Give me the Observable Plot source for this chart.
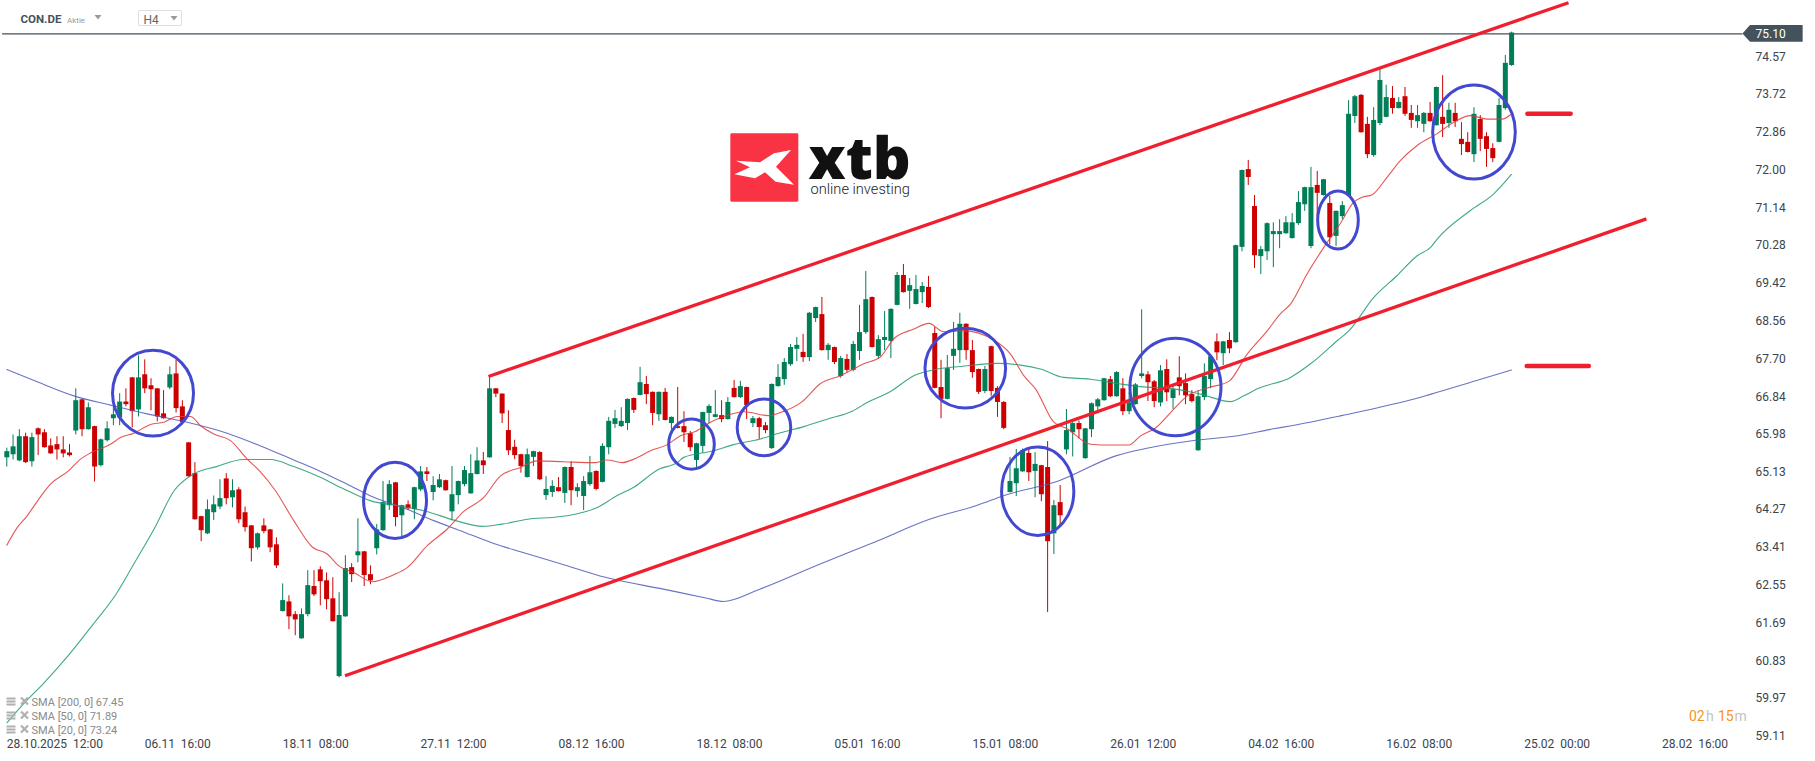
<!DOCTYPE html>
<html><head><meta charset="utf-8">
<script src="https://cdn.jsdelivr.net/npm/d3@7"></script>
<script src="https://cdn.jsdelivr.net/npm/@observablehq/plot@0.6"></script>
<style>html,body{margin:0;padding:0;background:#fff;overflow:hidden}svg{display:block}</style>
</head><body><div id="chart"></div>
<script>
const opens=[65.45,65.52,65.38,65.93,65.36,66.11,66.02,65.72,65.75,65.63,
65.56,66.06,66.77,66.09,66.16,65.27,65.84,66.34,66.36,66.72,
67.27,66.54,67.34,67.09,67.02,66.45,67.04,67.36,66.61,65.79,
65.09,64.11,63.72,64.20,64.33,64.97,64.54,64.72,64.20,63.90,
63.40,63.90,63.81,63.47,61.95,62.17,61.88,61.33,61.88,62.52,
62.90,62.65,62.24,60.47,61.83,62.95,63.22,63.31,62.79,63.38,
63.79,64.36,64.88,64.13,64.38,64.27,64.72,65.13,64.66,64.77,
64.93,64.22,64.59,64.84,64.63,65.07,65.38,65.45,67.02,66.90,
66.07,65.69,65.52,65.00,65.46,65.57,64.59,64.66,64.77,64.64,
65.23,64.68,64.57,64.84,65.14,64.89,65.68,66.21,66.16,66.23,
66.80,66.87,67.12,66.94,66.43,66.94,66.23,66.16,66.16,66.00,
65.39,65.71,66.46,66.37,66.41,66.32,67.03,66.82,67.05,66.23,
66.34,66.18,65.66,67.07,67.23,67.57,67.92,67.85,67.73,68.62,
68.71,67.89,67.96,67.30,67.69,67.44,67.87,68.30,69.10,67.76,
68.12,68.10,68.92,69.60,69.24,68.94,69.21,69.33,68.28,67.05,
66.78,67.76,67.89,68.49,67.89,67.46,66.96,67.98,67.03,66.71,
64.66,64.86,65.13,65.55,65.14,65.27,65.23,63.72,64.43,65.63,
66.02,66.23,65.43,66.09,66.61,66.75,67.23,66.84,67.02,66.50,
66.66,67.30,67.34,67.18,66.70,67.46,66.80,67.27,67.14,66.89,
65.61,66.82,67.23,68.09,67.82,68.12,68.07,70.24,72.01,71.17,
70.03,70.14,70.53,70.53,70.55,70.44,70.78,71.21,70.26,71.65,
71.42,71.24,70.49,70.94,71.42,73.22,73.70,73.04,72.33,73.06,
73.20,73.63,73.40,73.67,73.29,73.10,73.04,73.29,73.01,73.20,
73.06,73.29,72.70,72.63,72.35,73.15,72.76,72.49,72.63,73.40,
74.38];
const highs=[65.67,65.97,66.09,66.01,66.01,66.13,66.09,65.88,65.93,65.93,
65.75,67.02,66.78,66.70,66.17,65.88,66.27,66.63,66.91,67.02,
67.28,67.77,67.68,67.25,67.03,66.98,67.52,67.68,66.75,65.80,
65.34,64.12,64.49,64.58,64.95,65.09,64.95,64.77,64.33,63.91,
63.74,64.06,63.82,63.63,62.58,62.31,61.95,62.01,62.88,62.88,
62.97,62.83,62.72,62.38,63.22,63.04,64.06,63.32,62.99,63.93,
64.91,64.93,64.89,64.37,64.47,64.78,65.25,65.23,65.02,65.07,
64.94,65.25,64.92,65.25,65.52,65.68,65.57,67.28,67.03,66.91,
66.52,65.85,65.53,65.65,65.60,65.59,65.02,64.93,65.00,65.24,
65.36,64.86,65.02,65.48,65.15,65.77,66.37,66.53,66.59,66.79,
66.81,67.51,67.30,66.95,66.95,67.03,66.38,67.05,66.50,66.05,
65.78,66.49,66.66,66.98,66.75,66.82,67.21,67.19,67.06,66.39,
66.37,66.25,67.13,67.57,67.71,68.03,68.19,68.26,68.76,68.88,
69.10,68.05,67.97,67.76,67.80,68.10,68.92,69.69,69.11,68.23,
68.78,68.84,69.67,69.85,69.53,69.60,69.44,69.58,68.42,67.67,
67.78,68.53,68.74,68.50,68.12,67.47,67.53,67.99,67.07,66.73,
65.46,65.64,65.65,65.69,65.57,65.28,65.82,64.48,64.82,66.55,
66.25,66.29,66.12,66.70,66.80,67.26,67.30,67.41,67.25,66.93,
67.14,68.82,67.41,67.21,67.55,67.68,67.07,67.75,67.36,66.98,
66.98,67.59,67.80,68.27,68.10,68.30,70.29,72.00,72.22,71.42,
70.26,70.80,70.80,70.87,70.94,71.01,71.51,71.61,72.06,71.97,
71.79,71.40,71.07,71.28,73.58,73.70,73.72,73.20,73.42,74.31,
73.93,73.90,73.65,73.88,73.47,73.47,73.31,73.54,73.89,74.15,
73.52,73.52,73.08,72.85,73.42,73.24,72.85,72.60,73.63,74.61,
75.14];
const lows=[65.24,65.40,65.36,65.32,65.24,65.50,65.67,65.53,65.40,65.45,
65.47,65.97,65.93,66.08,64.90,65.24,65.81,66.18,66.18,66.61,
66.13,66.38,66.91,66.52,66.27,66.33,67.00,66.47,66.24,65.01,
64.03,63.54,63.70,64.02,64.27,64.38,64.31,63.95,63.76,63.08,
63.35,63.72,63.29,62.93,61.94,61.54,61.40,61.32,61.83,62.29,
62.08,61.99,61.71,60.44,61.82,62.61,63.06,62.52,62.56,63.24,
63.78,64.25,63.88,63.65,64.25,64.04,64.68,64.91,64.47,64.75,
64.69,64.02,64.38,64.79,64.62,65.06,65.07,65.44,66.82,66.23,
65.50,65.41,65.10,64.99,65.25,64.93,64.48,64.55,64.67,64.41,
64.36,64.55,64.25,64.80,64.70,64.88,65.52,66.12,66.14,66.07,
66.46,66.86,66.66,66.18,66.28,66.29,66.09,66.11,65.80,65.59,
65.21,65.55,66.23,66.36,66.25,66.31,66.81,66.80,66.32,66.14,
65.87,66.00,65.64,67.06,67.10,67.53,67.64,67.62,67.64,68.53,
67.88,67.67,67.57,67.26,67.39,67.41,67.67,68.26,67.95,67.69,
67.89,67.71,68.91,69.20,68.83,68.93,68.96,68.85,67.02,66.34,
66.77,67.44,67.60,67.67,67.26,66.89,66.91,66.85,66.37,66.09,
64.65,64.57,65.12,64.91,64.54,64.45,61.93,63.25,63.91,65.52,
65.47,65.88,65.42,65.91,66.45,66.74,66.82,66.83,66.41,66.43,
66.65,67.25,66.73,66.59,66.61,66.73,66.55,66.86,66.66,66.70,
65.60,66.75,67.02,67.66,67.55,67.82,68.06,70.14,71.65,69.76,
69.62,69.94,69.78,70.21,70.54,70.43,70.74,71.06,70.21,70.92,
71.41,70.30,70.26,70.87,71.41,73.06,72.84,72.26,72.29,73.01,
73.19,73.27,73.39,73.22,72.95,72.95,72.85,73.09,73.00,72.74,
72.95,72.97,72.33,72.39,72.17,72.42,72.06,72.17,72.62,73.36,
74.36];
const closes=[65.59,65.70,65.93,65.34,65.91,65.97,65.68,65.54,65.63,65.54,
65.50,66.75,66.09,66.59,65.24,65.86,66.11,66.43,66.72,66.66,
66.50,67.27,67.02,67.00,66.38,66.34,67.34,66.57,66.25,65.02,
64.04,63.79,64.27,64.38,64.52,64.52,64.70,64.04,63.86,63.38,
63.72,63.77,63.40,62.99,62.20,61.83,61.76,61.88,62.54,62.33,
62.63,62.22,61.72,61.86,62.93,62.79,63.31,62.77,62.65,63.81,
64.43,64.84,64.09,64.36,64.29,64.77,65.13,65.07,64.82,64.95,
64.70,64.61,64.91,65.16,65.09,65.38,65.27,67.02,66.90,66.45,
65.61,65.50,65.25,65.52,65.59,64.95,64.73,64.80,64.68,65.23,
64.70,64.77,64.91,65.11,64.73,65.71,66.28,66.34,66.28,66.78,
66.53,67.16,66.89,66.46,66.94,66.30,66.37,66.12,66.02,65.68,
65.77,66.48,66.62,66.43,66.32,66.71,66.82,67.07,66.64,66.34,
66.14,66.07,67.12,67.28,67.62,67.96,68.01,67.73,68.74,68.87,
67.89,68.01,67.62,67.71,67.44,68.03,68.30,69.05,67.96,68.14,
68.19,68.83,69.60,69.21,69.37,69.28,69.35,68.87,67.03,66.78,
67.48,67.92,68.49,67.89,67.39,66.94,67.46,66.96,66.71,66.12,
64.91,65.20,65.61,65.11,65.30,64.61,63.54,64.36,64.13,66.07,
66.23,66.09,66.11,66.68,66.77,67.25,66.84,67.39,66.50,66.70,
67.11,67.36,67.16,66.73,67.43,66.93,67.00,67.07,66.86,66.73,
66.84,67.30,67.75,67.84,68.09,67.93,70.28,71.99,71.83,70.05,
70.19,70.78,70.60,70.60,70.80,70.80,71.26,71.60,71.60,71.47,
71.78,70.46,71.06,71.19,73.27,73.67,72.85,72.35,73.13,74.04,
73.65,73.40,73.54,73.27,73.13,73.24,73.29,73.10,73.88,73.04,
73.36,73.10,72.58,72.40,73.27,72.70,72.47,72.26,73.47,74.43,
75.12];
// SMA [bar position, value]
const sma20=[[0,63.46],[1.66,63.86],[3.25,64.13],[5.1,64.51],[6.97,64.85],[9.89,65.16],[11.75,65.42],[13.35,65.56],[16.54,65.76],[18.13,65.91],
[20.26,66.01],[22.92,66.21],[25.04,66.26],[27.18,66.39],[29.3,66.39],[30.89,66.18],[33.01,65.99],[35.68,65.84],[38.34,65.42],[40.46,65.13],
[42.85,64.70],[45.77,64.02],[48.71,63.42],[51.1,63.26],[52.95,62.99],[55.34,62.84],[58.28,62.63],[61.72,62.79],[63.86,62.95],[67.05,63.45],
[70.24,63.83],[72.89,64.23],[76.08,64.55],[78.74,65.04],[81.93,65.23],[84.59,65.38],[88.84,65.36],[93.89,65.34],[95.76,65.40],[98.15,65.34],
[100,65.42],[102.66,65.61],[105.33,65.75],[107.45,65.95],[109.84,66.05],[112.23,66.26],[114.35,66.39],[117.54,66.50],[121.53,66.41],[123.39,66.48],
[126.86,66.73],[129.78,67.14],[132.97,67.32],[136.68,67.59],[139.35,67.75],[141.47,68.16],[144.66,68.38],[147.05,68.51],[149.44,68.32],[152.63,68.34],
[157.42,68.13],[160.08,67.81],[162.2,67.32],[164.07,67.02],[166.99,66.26],[169.12,66.11],[172.84,65.76],[176.03,65.74],[178.95,65.74],[180.81,65.95],
[183.2,66.13],[186.12,66.56],[188.26,66.86],[191.45,67.04],[194.9,67.19],[197.83,67.81],[201.02,68.34],[203.14,68.73],[204.74,68.95],[207.4,69.64],
[210.05,70.24],[212.71,70.79],[214.83,71.27],[216.17,71.38],[217.77,71.44],[220.16,71.84],[222.28,72.22],[224.94,72.56],[228.13,72.83],[230.78,73.09],
[233.44,73.24],[236.11,73.16],[238.5,73.16],[239.82,73.26]];
const sma50=[[0.05,59.42],[2.66,59.85],[5.76,60.30],[9.76,60.94],[13.76,61.66],[17.45,62.35],[20.53,63.10],[23.6,63.86],[26.68,64.70],[29.76,65.08],
[33.44,65.25],[37.75,65.41],[42.06,65.41],[45.76,65.25],[50.06,65.00],[53.76,64.74],[58.07,64.47],[62.38,64.36],[66.68,64.24],[71.59,64.02],
[75.92,63.89],[78.98,63.94],[83.91,64.07],[86.99,64.09],[91.91,64.21],[93.89,64.30],[97.35,64.59],[100,64.78],[103.99,65.19],[106.92,65.34],
[107.97,65.46],[112.76,65.61],[115.95,65.75],[120.21,65.88],[123.4,66.02],[127.11,66.16],[130.84,66.33],[134.83,66.51],[137.22,66.71],[140.94,66.96],
[144.66,67.32],[148.39,67.47],[152.1,67.53],[157.96,67.60],[161.67,67.56],[164.86,67.47],[168.58,67.28],[172.84,67.24],[177.62,67.13],[180.81,67.07],
[186.12,67.02],[190.38,66.90],[195.17,66.73],[197.29,66.86],[199.43,67.02],[204.74,67.28],[207.93,67.59],[212.23,68.12],[214.04,68.34],[218.02,69.10],
[221.75,69.60],[224.94,70.05],[227.07,70.24],[228.13,70.43],[233.44,71.08],[237.16,71.46],[239.98,71.90]];
const sma200=[[0,67.46],[4.85,67.18],[10.69,66.86],[16.54,66.65],[22.39,66.45],[28.77,66.26],[35.15,66.01],[40.46,65.72],[45.77,65.40],[50.03,65.14],
[54.29,64.85],[58.53,64.55],[63.86,64.28],[68.1,64.02],[72.36,63.79],[77.67,63.50],[81.93,63.31],[88.31,63.04],[95.48,62.73],[104.72,62.46],
[111.48,62.26],[114.26,62.18],[120.1,62.46],[129.33,63.01],[138.55,63.54],[147.16,64.05],[154.56,64.36],[159.44,64.61],[167.48,64.91],[176.99,65.50],
[181.61,65.66],[189.59,65.85],[195.65,65.94],[202.03,66.11],[204.9,66.18],[212.87,66.41],[223.97,66.77],[234.4,67.21],[239.98,67.45]];
const priceTicks=[74.57,73.72,72.86,72.00,71.14,70.28,69.42,68.56,67.70,66.84,65.98,65.13,64.27,63.41,62.55,61.69,60.83,59.97,59.11];
const dateLabels=["28.10.2025  12:00","06.11  16:00","18.11  08:00","27.11  12:00","08.12  16:00","18.12  08:00","05.01  16:00","15.01  08:00","26.01  12:00","04.02  16:00","16.02  08:00","25.02  00:00","28.02  16:00"];
const barsPerLabel=22;
const lastPrice=75.10;
// channel lines [bar1, price1, bar2, price2]
const channels=[[76.83,67.30,249.08,75.81],[53.94,60.49,261.5,70.89]];
const levels=[[242.6,249.5,73.28],[242.5,252.4,67.54]];
// circles [bar centre, price centre, radius in bars, radius in price]
const circles=[[23.4,66.91,6.46,0.975],[62.0,64.47,5.02,0.866],[109.28,65.75,3.64,0.57],[120.84,66.13,4.27,0.645],[152.95,67.48,6.43,0.907],[164.5,64.68,5.76,1.007],[186.47,67.05,7.26,1.109],[212.39,70.85,3.24,0.66],[234.08,72.855,6.59,1.07]];
const legendRows=["SMA [200, 0] 67.45","SMA [50, 0] 71.89","SMA [20, 0] 73.24"];

const candles=opens.map((o,i)=>({i,o,h:highs[i],l:lows[i],c:closes[i]}));
const up=candles.filter(d=>d.c>=d.o), down=candles.filter(d=>d.c<d.o);
const GREEN="#007e58", RED="#cc0000";
const label=(text,x,y,o={})=>Plot.text([text],{text:d=>d,frameAnchor:"top-left",dx:x,dy:y,textAnchor:"start",lineAnchor:"middle",fontFamily:"Roboto",...o});
const smaLine=(data,stroke)=>Plot.line(data,{x:d=>d[0],y:d=>d[1],stroke,strokeWidth:1.1,strokeOpacity:0.85,curve:"monotone-x"});
const tag=[{x:276.9,y1:75.10,y2:75.10},{x:278.1,y1:74.91,y2:75.29},{x:286.5,y1:74.91,y2:75.29}];

function circlesMark(index,{x,y}){
  const g=d3.create("svg:g");
  for(const [cx,cy,rx,ry] of circles){
    g.append("ellipse").attr("cx",x(cx)).attr("cy",y(cy))
     .attr("rx",Math.abs(x(cx+rx)-x(cx))).attr("ry",Math.abs(y(cy+ry)-y(cy)))
     .attr("fill","none").attr("stroke","#4248cf").attr("stroke-width",3);
  }
  return g.node();
}
function chrome(){
  const g=d3.create("svg:g");
  const tri=(x,y)=>g.append("polygon").attr("points",`${x},${y} ${x+7},${y} ${x+3.5},${y+4.5}`).attr("fill","#999");
  tri(94.5,15); tri(170.5,16);
  g.append("rect").attr("x",138.5).attr("y",10.5).attr("width",43).attr("height",15).attr("rx",1.5).attr("fill","none").attr("stroke","#dde0e2");
  // legend icons
  for(const yy of [701.5,715.5,729.5]){
    for(const dy of [-4,-1,2]) g.append("rect").attr("x",6.5).attr("y",yy+dy).attr("width",9).attr("height",2).attr("fill","#b0b0b0");
    g.append("path").attr("d",`M21 ${yy-4}l7 7M28 ${yy-4}l-7 7`).attr("stroke","#b0b0b0").attr("stroke-width",2.2);
  }
  // logo
  const logo=g.append("g").attr("transform","translate(700,110) scale(0.3333)");
  logo.append("rect").attr("x",91).attr("y",70).attr("width",204).attr("height",205).attr("rx",4).attr("fill","#f93343");
  logo.append("polygon").attr("fill","#fff").attr("points","108,152 180,157 222,130 273,120 228,170 282,224 227,215 195,187 165,205 103,193 150,172");
  return g.node();
}

const plot=Plot.plot({
  width:1815,height:761,
  marginTop:0,marginLeft:0,marginRight:60,marginBottom:22,
  style:{fontFamily:"Roboto",fontSize:"12px",background:"#fff",overflow:"visible"},
  x:{type:"linear",domain:[0,240],range:[6.3,1511.1],label:null},
  y:{type:"linear",domain:[75.86,58.537],range:[0,761],label:null},
  marks:[
    Plot.ruleY([lastPrice],{x1:-0.68,x2:276.9,stroke:"#44525c",strokeWidth:1.2}),
    Plot.axisY(priceTicks,{anchor:"right",tickSize:0,tickPadding:0,textAnchor:"start",tickFormat:d=>d.toFixed(2),fill:"#3a444c",label:null,fontSize:12}),
    Plot.axisX(dateLabels.map((_,k)=>k*barsPerLabel),{anchor:"bottom",tickSize:0,tickPadding:0,textAnchor:"start",tickFormat:i=>dateLabels[i/barsPerLabel].replace(/ /g,"\u00a0"),fill:"#3a444c",label:null,fontSize:12}),
    Plot.ruleX(up,{x:"i",y1:"l",y2:"h",stroke:GREEN,strokeWidth:1}),
    Plot.ruleX(down,{x:"i",y1:"l",y2:"h",stroke:RED,strokeWidth:1}),
    Plot.ruleX(up,{x:"i",y1:"o",y2:"c",stroke:GREEN,strokeWidth:5}),
    Plot.ruleX(down,{x:"i",y1:"o",y2:"c",stroke:RED,strokeWidth:5}),
    smaLine(sma200,"#4f5ab8"),
    smaLine(sma50,"#1f9a70"),
    smaLine(sma20,"#e03a3a"),
    Plot.link(channels,{x1:d=>d[0],y1:d=>d[1],x2:d=>d[2],y2:d=>d[3],stroke:"#f01f2e",strokeWidth:3.3,curve:"linear"}),
    Plot.ruleY(levels,{x1:d=>d[0],x2:d=>d[1],y:d=>d[2],stroke:"#f01f2e",strokeWidth:4.5,strokeLinecap:"round"}),
    circlesMark,
    Plot.areaY(tag,{x:"x",y1:"y1",y2:"y2",fill:"#44525c",curve:"linear"}),
    Plot.text([lastPrice],{x:278.9,y:lastPrice,text:d=>d.toFixed(2),fill:"#fff",textAnchor:"start",fontSize:12,fontFamily:"Roboto"}),
    chrome,
    label("CON.DE",20,19,{fontWeight:700,fontSize:11.5,fill:"#44525c"}),
    label("Aktie",66.5,19.5,{fontSize:8,fill:"#999"}),
    label("H4",143,20,{fontSize:12,fill:"#666"}),
    label("xtb",808,159.4,{fontSize:59,fontWeight:800,fill:"#111",fontFamily:"Open Sans"}),
    label("online investing",810,188.3,{fontSize:14.65,fontWeight:300,fill:"#222",fontFamily:"Roboto"}),
    ...legendRows.map((t,k)=>label(t.replace(/ /g,"\u00a0"),31,702+k*14,{fontSize:11,fill:"#8a8a8a"})),
    label("02",1688.4,716,{fontSize:14,fill:"#f7931e"}),
    label("h",1705.6,716,{fontSize:14,fill:"#c2c2c2"}),
    label("15",1717.4,716,{fontSize:14,fill:"#f7931e"}),
    label("m",1734,716,{fontSize:14,fill:"#c2c2c2"})
  ]
});
document.getElementById("chart").append(plot);
</script></body></html>
